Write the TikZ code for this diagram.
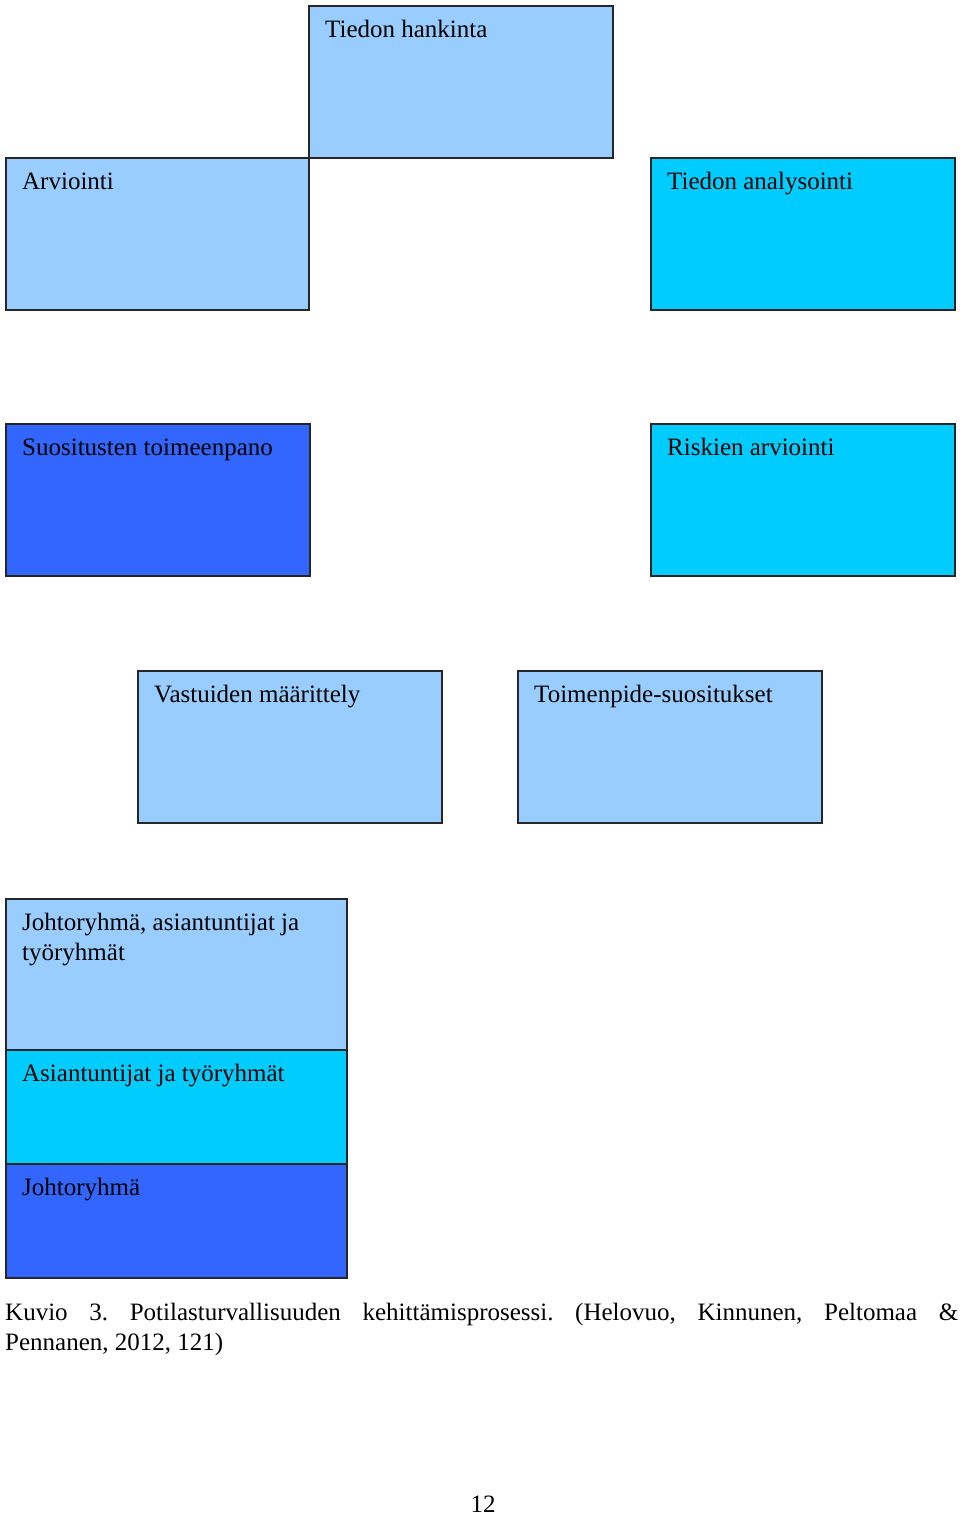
\documentclass[tikz,border=0pt]{standalone}
\usepackage{fontspec}
\setmainfont{Liberation Serif}
\usepackage{xcolor}
\definecolor{pkLight}{HTML}{99CCFF}
\definecolor{pkCyan}{HTML}{00CCFF}
\definecolor{pkBlue}{HTML}{3366FF}
\tikzset{
    pkbox/.style={draw=black!85, line width=1.5pt, anchor=north west, inner sep=0pt},
    pklabel/.style={anchor=base west, inner sep=0pt,
        font=\fontsize{25}{30}\selectfont},
}
\newcommand{\pkBox}[7]{%
    \node[pkbox, fill=#6, minimum width=#4pt, minimum height=#5pt] (#1) at (#2,#3) {};
    \node[pklabel] (#1-text) at ([shift={(17,32)}]#1.north west)
        {\begin{tabular}[t]{@{}l@{}}#7\end{tabular}};
}

\begin{document}
\begin{tikzpicture}[x=1pt, y=-1pt]
    \useasboundingbox (0,0) rectangle (960,1515);
    % prosessin vaiheet
    \pkBox{hankinta}{308}{5}{304}{152}{pkLight}{Tiedon hankinta}
    \pkBox{arviointi}{5}{157}{303}{152}{pkLight}{Arviointi}
    \pkBox{analysointi}{650}{157}{304}{152}{pkCyan}{Tiedon analysointi}
    \pkBox{toimeenpano}{5}{423}{304}{152}{pkBlue}{Suositusten toimeenpano}
    \pkBox{riskit}{650}{423}{304}{152}{pkCyan}{Riskien arviointi}
    \pkBox{vastuut}{137}{670}{304}{152}{pkLight}{Vastuiden määrittely}
    \pkBox{suositukset}{517}{670}{304}{152}{pkLight}{Toimenpide-suositukset}
    % selite
    \pkBox{kaikki}{5}{898}{341}{151}{pkLight}{Johtoryhmä, asiantuntijat ja\\työryhmät}
    \pkBox{asiantuntijat}{5}{1049}{341}{114}{pkCyan}{Asiantuntijat ja työryhmät}
    \pkBox{johto}{5}{1163}{341}{114}{pkBlue}{Johtoryhmä}
    \node[anchor=north west, inner sep=0pt, text width=953pt, align=justify,
        font=\fontsize{25}{30}\selectfont\frenchspacing] (kuvateksti) at (5,1303)
        {Kuvio 3. Potilasturvallisuuden kehittämisprosessi. (Helovuo, Kinnunen, Peltomaa \&\linebreak Pennanen, 2012, 121)};
    \node[anchor=base, inner sep=0pt, font=\fontsize{25}{30}\selectfont] (sivu) at (483,1512) {12};
\end{tikzpicture}
\end{document}
